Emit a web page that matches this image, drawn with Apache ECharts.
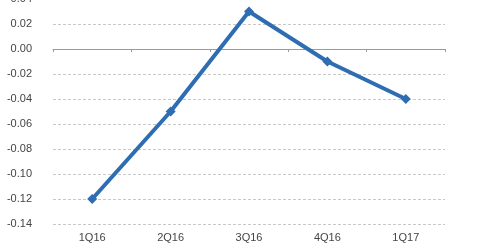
<!DOCTYPE html>
<html>
<head>
<meta charset="utf-8">
<script src="https://cdn.jsdelivr.net/npm/echarts@6/dist/echarts.min.js"></script>
<style>html,body{margin:0;padding:0;background:#fff;}#c{width:480px;height:251px;}</style>
</head>
<body>
<div id="c"></div>
<script>
var categories = ['1Q16', '2Q16', '3Q16', '4Q16', '1Q17'];
var values = [-0.12, -0.05, 0.03, -0.01, -0.04];
var yMin = -0.14, yMax = 0.04, yStep = 0.02;

var chart = echarts.init(document.getElementById('c'), null, {renderer: 'canvas'});
var font = 'Liberation Sans, Arial, sans-serif';
chart.setOption({
  animation: false,
  grid: {left: 53, right: 35, top: -1, bottom: 27, containLabel: false, outerBoundsMode: 'none'},
  xAxis: [{
    type: 'category', data: categories, boundaryGap: true,
    axisLine: {onZero: true, lineStyle: {color: '#9a9a9a', width: 1}},
    axisTick: {show: true, length: 3, inside: false, lineStyle: {color: '#9a9a9a'}},
    axisLabel: {show: false}, splitLine: {show: false}
  }, {
    type: 'category', data: categories, boundaryGap: true, position: 'bottom',
    axisLine: {show: false, onZero: false}, axisTick: {show: false},
    axisLabel: {show: true, color: '#444', fontFamily: font, fontSize: 11, margin: 8}
  }],
  yAxis: {
    type: 'value', min: yMin, max: yMax, interval: yStep,
    axisLine: {show: false}, axisTick: {show: false},
    axisLabel: {color: '#444', fontFamily: font, fontSize: 11, margin: 21,
      formatter: function (v) { return v.toFixed(2); }},
    splitLine: {show: true, lineStyle: {color: '#c8c8c8', type: [3, 2], width: 1}}
  },
  series: [{
    type: 'line', data: values, xAxisIndex: 0,
    symbol: 'diamond', symbolSize: 10,
    lineStyle: {color: '#2f6db3', width: 4},
    itemStyle: {color: '#2f6db3'}
  }]
});
</script>
</body>
</html>
